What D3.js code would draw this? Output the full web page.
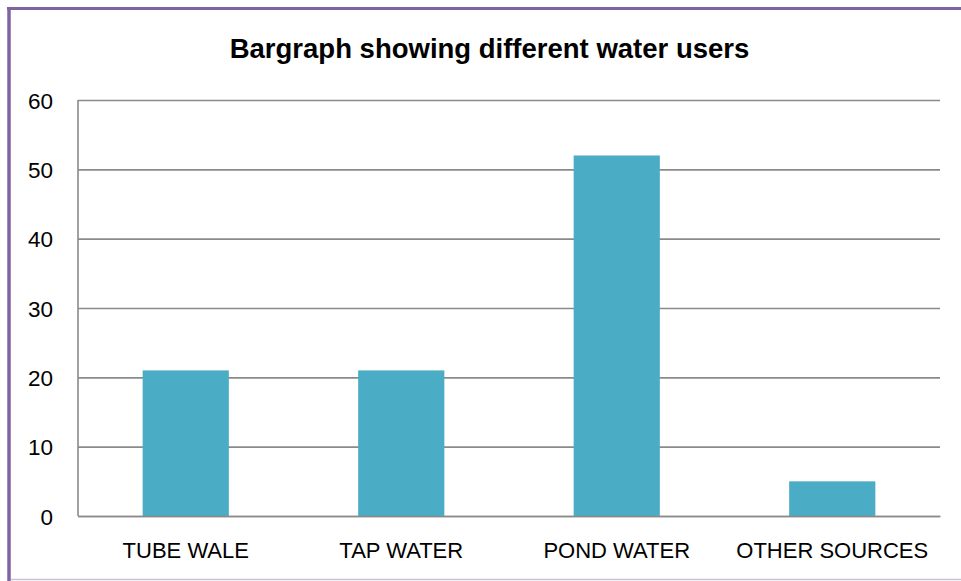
<!DOCTYPE html>
<html><head><meta charset="utf-8">
<script src="https://cdn.jsdelivr.net/npm/d3@7"></script>
<style>html,body{margin:0;padding:0;background:#fff;overflow:hidden}</style>
</head><body>
<svg id="chart" width="961" height="581"></svg>
<script>
const categories = ["TUBE WALE", "TAP WATER", "POND WATER", "OTHER SOURCES"];
const values = [21, 21, 52, 5];
const yTicks = [0, 10, 20, 30, 40, 50, 60];
const title = "Bargraph showing different water users";

const svg = d3.select("#chart");
const font = "'Liberation Sans', Arial, sans-serif";
const m = {left: 78, right: 940, top: 100, bottom: 516};

// frame
svg.append("rect").attr("x", 0).attr("y", 0).attr("width", 961).attr("height", 581).attr("fill", "#fff");
svg.append("line").attr("x1", 7).attr("x2", 961).attr("y1", 8.5).attr("y2", 8.5)
  .attr("stroke", "#8064a2").attr("stroke-width", 3);
svg.append("line").attr("x1", 9).attr("x2", 9).attr("y1", 7).attr("y2", 581)
  .attr("stroke", "#8064a2").attr("stroke-width", 3.5);
svg.append("line").attr("x1", 11).attr("x2", 961).attr("y1", 579.5).attr("y2", 579.5)
  .attr("stroke", "#cbbfe0").attr("stroke-width", 1.5);

const x = d3.scaleBand().domain(categories).range([m.left, m.right]).padding(0);
const y = d3.scaleLinear().domain([0, 60]).range([m.bottom, m.top]);

// gridlines
const yAxis = d3.axisLeft(y).tickValues(yTicks).tickSize(-(m.right - m.left)).tickPadding(25).tickFormat(d3.format("d"));
const gy = svg.append("g").attr("transform", `translate(${m.left},0)`).call(yAxis);
gy.select(".domain").remove();
gy.selectAll(".tick line").attr("stroke", "#8a8a8a").attr("stroke-width", 1.6);
gy.selectAll(".tick text").attr("font-family", font).attr("font-size", 22.5).attr("fill", "#000")
  .attr("dy", "0.36em");

// y axis line
svg.append("line").attr("x1", m.left).attr("x2", m.left).attr("y1", m.top).attr("y2", m.bottom)
  .attr("stroke", "#8a8a8a").attr("stroke-width", 1.6);

// bars
const barW = x.bandwidth() * 0.4;
svg.append("g").selectAll("rect").data(values).join("rect")
  .attr("x", (d, i) => x(categories[i]) + (x.bandwidth() - barW) / 2)
  .attr("y", d => y(d))
  .attr("width", barW)
  .attr("height", d => y(0) - y(d))
  .attr("fill", "#4bacc6");

// x axis
const xAxis = d3.axisBottom(x).tickSize(0).tickPadding(0);
const gx = svg.append("g").attr("transform", `translate(0,${m.bottom})`).call(xAxis);
gx.select(".domain").attr("stroke", "#8a8a8a").attr("stroke-width", 1.6);
gx.selectAll(".tick text").attr("font-family", font).attr("font-size", 22).attr("fill", "#000")
  .attr("dy", null).attr("y", 42);

// title
svg.append("text").attr("x", 489.5).attr("y", 58).attr("text-anchor", "middle")
  .attr("font-family", font).attr("font-weight", "bold").attr("font-size", 27.5).attr("fill", "#000")
  .text(title);
</script>
</body></html>
